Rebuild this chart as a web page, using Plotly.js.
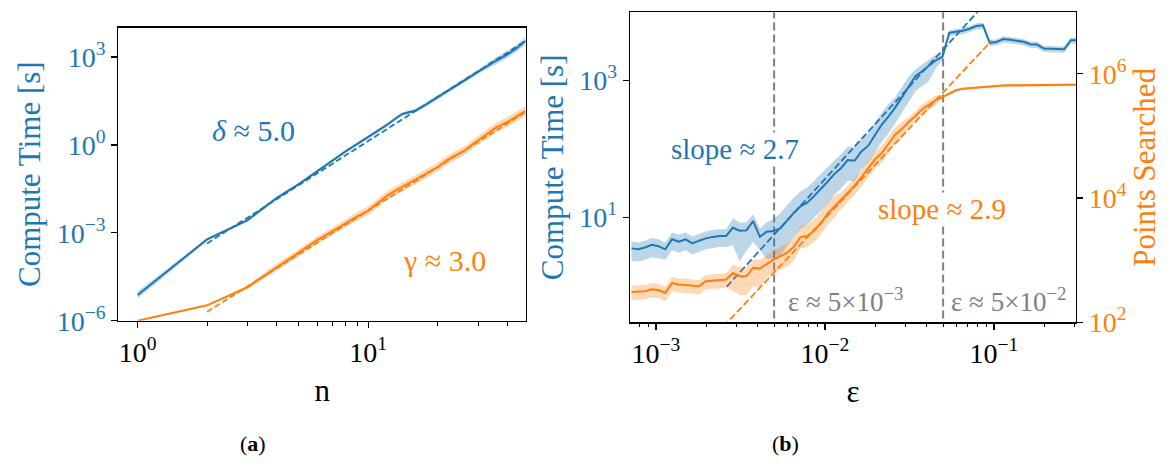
<!DOCTYPE html>
<html>
<head>
<meta charset="utf-8">
<script src="https://cdn.plot.ly/plotly-3.0.1.min.js"></script>
<style>
  html, body { margin: 0; padding: 0; background: #fff; }
  #chart { width: 1174px; height: 464px; }
</style>
</head>
<body>
<div id="chart"></div>
<script>
// ---------- panel (a): compute time versus n ----------
const nValues = [1, 2, 3, 4, 5, 6, 7, 8, 9, 10, 11, 12, 13, 14, 15, 16, 18, 20, 22, 24, 26, 28, 30, 33, 36, 40, 44, 48];
const timeDelta = [7.52e-6, 5.96e-4, 2.71e-3, 1.52e-2, 0.0458, 0.127, 0.295, 0.611, 1.10, 1.83, 2.94, 4.70, 7.53, 11.2, 13.1, 14.7, 25.1, 41.7, 67.6, 105, 155, 224, 316, 513, 759, 1202, 1995, 3548];
const timeGamma = [1.0e-6, 3.35e-6, 1.41e-5, 6.61e-5, 2.09e-4, 5.62e-4, 1.14e-3, 2.14e-3, 3.72e-3, 5.71e-3, 0.0103, 0.0179, 0.0264, 0.0362, 0.0476, 0.0627, 0.109, 0.174, 0.301, 0.447, 0.611, 0.979, 1.45, 2.51, 4.02, 5.96, 9.53, 14.1];
// spread of the shaded bands, in decades
const spreadDelta = [0.12, 0.05, 0.05, 0.05, 0.05, 0.05, 0.05, 0.05, 0.05, 0.05, 0.06, 0.06, 0.06, 0.06, 0.06, 0.06, 0.07, 0.07, 0.07, 0.07, 0.07, 0.07, 0.07, 0.10, 0.12, 0.12, 0.12, 0.12];
const spreadGamma = [0, 0.02, 0.06, 0.12, 0.12, 0.12, 0.12, 0.12, 0.15, 0.15, 0.15, 0.15, 0.15, 0.15, 0.15, 0.15, 0.15, 0.15, 0.15, 0.15, 0.15, 0.15, 0.15, 0.17, 0.17, 0.17, 0.17, 0.17];
// fitted power laws
const deltaExponent = 5.0;
const deltaFitN = [2, 48];
const deltaFitStart = 4.35e-4;
const gammaFitN = [2, 48];
const gammaFitVals = [2.03e-6, 13.0];

// ---------- panel (b): compute time and points searched versus epsilon ----------
const epsValues = [
  7.161e-4, 7.852e-4, 8.610e-4, 9.441e-4, 1.035e-3, 1.135e-3, 1.245e-3, 1.365e-3, 1.496e-3, 1.641e-3,
  1.799e-3, 1.972e-3, 2.163e-3, 2.371e-3, 2.600e-3, 2.851e-3, 3.126e-3, 3.428e-3, 3.758e-3, 4.121e-3,
  4.519e-3, 4.955e-3, 5.433e-3, 5.957e-3, 6.531e-3, 7.161e-3, 7.852e-3, 8.610e-3, 9.441e-3, 1.035e-2,
  1.135e-2, 1.245e-2, 1.365e-2, 1.496e-2, 1.641e-2, 1.799e-2, 1.972e-2, 2.163e-2, 2.371e-2, 2.600e-2,
  2.851e-2, 3.126e-2, 3.428e-2, 3.758e-2, 4.121e-2, 4.519e-2, 4.955e-2, 5.433e-2, 5.957e-2, 6.531e-2,
  7.161e-2, 7.852e-2, 8.610e-2, 9.441e-2, 0.1035, 0.1135, 0.1245, 0.1365, 0.1496, 0.1641,
  0.1799, 0.1972, 0.2163, 0.2371, 0.2600, 0.2851, 0.3126
];
const computeTime = [
  3.53, 3.43, 3.63, 3.98, 3.80, 3.42, 4.79, 4.42, 4.79, 4.17,
  4.57, 4.94, 5.19, 5.35, 5.35, 7.06, 6.38, 6.46, 8.83, 5.21,
  6.17, 6.31, 6.92, 9.12, 11.6, 14.5, 16.4, 20.4, 25.7, 33.1,
  42.7, 52.5, 68.4, 66.8, 91.2, 110, 158, 224, 295, 398,
  562, 794, 1148, 1349, 1622, 1950, 2188, 4898, 5070, 5248,
  5623, 6166, 6310, 3508, 3614, 3981, 3890, 3741, 3631, 3342,
  3311, 2891, 2891, 2851, 2818, 3828, 3828
];
const pointsSearched = [
  308, 308, 316, 339, 331, 296, 430, 407, 396, 389,
  380, 458, 466, 472, 488, 624, 551, 551, 752, 735,
  871, 1023, 1148, 1318, 1622, 2355, 2455, 2985, 3890, 5623,
  7244, 9333, 12160, 15850, 21630, 29510, 41690, 52480, 74130, 104700,
  128800, 167900, 208900, 269200, 316200, 375800, 421700, 478600, 543300, 572800,
  586100, 605300, 616600, 631000, 642700, 648600, 651600, 654600, 656200, 657700,
  659200, 660700, 660700, 662200, 662200, 663700, 663700
];
// band extents above / below each curve, in decades
const computeUp = [
  0.10, 0.10, 0.10, 0.10, 0.10, 0.10, 0.10, 0.10, 0.10, 0.10,
  0.10, 0.10, 0.10, 0.10, 0.10, 0.14, 0.12, 0.12, 0.10, 0.12,
  0.14, 0.18, 0.22, 0.22, 0.22, 0.22, 0.22, 0.22, 0.22, 0.22,
  0.20, 0.20, 0.20, 0.20, 0.18, 0.18, 0.18, 0.18, 0.18, 0.15,
  0.15, 0.15, 0.10, 0.10, 0.10, 0.08, 0.04, 0.04, 0.04, 0.04,
  0.04, 0.04, 0.04, 0.04, 0.04, 0.04, 0.04, 0.04, 0.04, 0.04,
  0.04, 0.04, 0.04, 0.04, 0.04, 0.04, 0.04
];
const computeDown = [
  0.18, 0.18, 0.18, 0.18, 0.18, 0.15, 0.16, 0.16, 0.16, 0.16,
  0.16, 0.16, 0.16, 0.16, 0.16, 0.25, 0.45, 0.30, 0.30, 0.20,
  0.40, 0.40, 0.40, 0.38, 0.35, 0.32, 0.32, 0.32, 0.32, 0.32,
  0.30, 0.30, 0.30, 0.30, 0.25, 0.25, 0.25, 0.25, 0.25, 0.22,
  0.22, 0.22, 0.22, 0.22, 0.22, 0.12, 0.05, 0.05, 0.05, 0.05,
  0.05, 0.05, 0.05, 0.05, 0.05, 0.05, 0.05, 0.05, 0.05, 0.05,
  0.05, 0.05, 0.05, 0.05, 0.05, 0.05, 0.05
];
const pointsUp = [
  0.10, 0.10, 0.10, 0.10, 0.10, 0.10, 0.10, 0.10, 0.10, 0.10,
  0.10, 0.10, 0.10, 0.10, 0.10, 0.14, 0.14, 0.14, 0.14, 0.14,
  0.15, 0.15, 0.15, 0.15, 0.15, 0.18, 0.18, 0.18, 0.18, 0.18,
  0.18, 0.12, 0.12, 0.12, 0.12, 0.12, 0.12, 0.12, 0.12, 0.12,
  0.12, 0.08, 0.08, 0.08, 0.08, 0.08, 0.02, 0.02, 0.02, 0.02,
  0.02, 0.02, 0.02, 0.02, 0.02, 0.02, 0.02, 0.02, 0.02, 0.02,
  0.02, 0.02, 0.02, 0.02, 0.02, 0.02, 0.02
];
const pointsDown = [
  0.13, 0.13, 0.13, 0.13, 0.13, 0.13, 0.13, 0.13, 0.13, 0.13,
  0.13, 0.13, 0.13, 0.13, 0.13, 0.30, 0.30, 0.30, 0.30, 0.30,
  0.22, 0.22, 0.22, 0.22, 0.22, 0.18, 0.18, 0.18, 0.18, 0.18,
  0.18, 0.15, 0.15, 0.15, 0.15, 0.15, 0.15, 0.15, 0.15, 0.15,
  0.15, 0.08, 0.08, 0.08, 0.08, 0.08, 0.02, 0.02, 0.02, 0.02,
  0.02, 0.02, 0.02, 0.02, 0.02, 0.02, 0.02, 0.02, 0.02, 0.02,
  0.02, 0.02, 0.02, 0.02, 0.02, 0.02, 0.02
];
// fitted slopes in the scaling regime
const computeSlope = 2.7;
const computeFitEps = [0.00262, 0.0807];
const computeFitStart = 0.975;
const pointsSlope = 2.9;
const pointsFitEps = [0.0025, 0.0968];
const pointsFitStart = 84.7;
// epsilon thresholds marked with vertical lines
const epsThresholds = [0.005, 0.05];

// ---------- styling ----------
const BLUE = '#1f77b4';
const ORANGE = '#ff7f0e';
const GREY = '#808080';
const SERIF = 'Liberation Serif';

function bandPolygon(xs, ys, up, down) {
  const upper = ys.map((v, i) => v * Math.pow(10, up[i]));
  const lower = ys.map((v, i) => v / Math.pow(10, down[i]));
  return {
    x: xs.concat(xs.slice().reverse()),
    y: upper.concat(lower.reverse())
  };
}

function powerLaw(xs, start, slope) {
  return xs.map(x => start * Math.pow(x / xs[0], slope));
}

function bandTrace(poly, color, xa, ya) {
  return {
    x: poly.x, y: poly.y, xaxis: xa, yaxis: ya,
    type: 'scatter', mode: 'lines', fill: 'toself',
    fillcolor: color, line: { width: 0 }, hoverinfo: 'skip', showlegend: false
  };
}

function lineTrace(xs, ys, color, xa, ya, dash) {
  return {
    x: xs, y: ys, xaxis: xa, yaxis: ya,
    type: 'scatter', mode: 'lines',
    line: { color: color, width: dash ? 1.8 : 2, dash: dash || 'solid' },
    hoverinfo: 'skip', showlegend: false
  };
}

const traces = [];

// panel (a)
traces.push(bandTrace(bandPolygon(nValues, timeDelta, spreadDelta, spreadDelta), 'rgba(31,119,180,0.3)', 'x', 'y'));
traces.push(bandTrace(bandPolygon(nValues, timeGamma, spreadGamma, spreadGamma), 'rgba(255,127,14,0.3)', 'x', 'y'));
traces.push(lineTrace(nValues, timeDelta, BLUE, 'x', 'y'));
traces.push(lineTrace(deltaFitN, powerLaw(deltaFitN, deltaFitStart, deltaExponent), BLUE, 'x', 'y', '6px,3px'));
traces.push(lineTrace(nValues, timeGamma, ORANGE, 'x', 'y'));
traces.push(lineTrace(gammaFitN, gammaFitVals, ORANGE, 'x', 'y', '6px,3px'));

// panel (b): threshold markers
epsThresholds.forEach(e => {
  traces.push({
    x: [e, e], y: [0.1, 1e5], xaxis: 'x2', yaxis: 'y2',
    type: 'scatter', mode: 'lines',
    line: { color: GREY, width: 2, dash: '8px,4px' },
    hoverinfo: 'skip', showlegend: false
  });
});
// compute time (left axis)
traces.push(bandTrace(bandPolygon(epsValues, computeTime, computeUp, computeDown), 'rgba(31,119,180,0.3)', 'x2', 'y2'));
traces.push(lineTrace(epsValues, computeTime, BLUE, 'x2', 'y2'));
traces.push(lineTrace(computeFitEps, powerLaw(computeFitEps, computeFitStart, computeSlope), BLUE, 'x2', 'y2', '7px,3px'));
// points searched (right axis)
traces.push(bandTrace(bandPolygon(epsValues, pointsSearched, pointsUp, pointsDown), 'rgba(255,127,14,0.3)', 'x2', 'y3'));
traces.push(lineTrace(epsValues, pointsSearched, ORANGE, 'x2', 'y3'));
traces.push(lineTrace(pointsFitEps, powerLaw(pointsFitEps, pointsFitStart, pointsSlope), ORANGE, 'x2', 'y3', '7px,3px'));

const tickFont = (c) => ({ family: SERIF, size: 28, color: c });
const titleFont = (c) => ({ family: SERIF, size: 31, color: c });

const baseAxis = {
  type: 'log', showgrid: false, zeroline: false,
  showline: true, linecolor: '#000', linewidth: 1.3,
  ticks: 'outside', ticklen: 6, tickwidth: 1.2, tickcolor: '#000',
  tickmode: 'array', automargin: false
};

function note(xPx, yPx, text, size, color, boxed) {
  const a = {
    xref: 'paper', yref: 'paper', x: xPx / 1174, y: 1 - yPx / 464,
    xanchor: 'center', yanchor: 'middle', text: text, showarrow: false,
    font: { family: SERIF, size: size, color: color }
  };
  if (boxed) { a.bgcolor = '#fff'; a.borderpad = 0; }
  return a;
}

const layout = {
  width: 1174, height: 464,
  margin: { l: 0, r: 0, t: 0, b: 0 },
  paper_bgcolor: '#fff', plot_bgcolor: 'rgba(0,0,0,0)',
  font: { family: SERIF },
  showlegend: false,
  xaxis: Object.assign({}, baseAxis, {
    domain: [0.1009, 0.4480], anchor: 'y', mirror: true,
    range: [-0.0833, 1.684],
    tickvals: [1, 10], ticktext: ['10<sup>0</sup>', '10<sup>1</sup>'],
    tickfont: tickFont('#000'),
    minor: { ticks: 'outside', ticklen: 3.5, tickwidth: 1, tickcolor: '#000', tickmode: 'array',
             tickvals: [2, 3, 4, 5, 6, 7, 8, 9, 20, 30, 40] },
    title: { text: 'n', font: titleFont('#000'), standoff: 12 }
  }),
  yaxis: Object.assign({}, baseAxis, {
    domain: [0.3088, 0.9403], anchor: 'x', mirror: true,
    range: [-6, 4],
    tickvals: [1e-6, 1e-3, 1, 1e3],
    ticktext: ['10<sup>−6</sup>', '10<sup>−3</sup>', '10<sup>0</sup>', '10<sup>3</sup>'],
    tickfont: tickFont(BLUE),
    title: { text: 'Compute Time [s]', font: titleFont(BLUE), standoff: 6 }
  }),
  xaxis2: Object.assign({}, baseAxis, {
    domain: [0.5366, 0.9165], anchor: 'y2', mirror: true,
    range: [-3.154, -0.515],
    tickvals: [1e-3, 1e-2, 1e-1],
    ticktext: ['10<sup>−3</sup>', '10<sup>−2</sup>', '10<sup>−1</sup>'],
    tickfont: tickFont('#000'),
    minor: { ticks: 'outside', ticklen: 3.5, tickwidth: 1, tickcolor: '#000', tickmode: 'array',
             tickvals: [8e-4, 9e-4, 2e-3, 3e-3, 4e-3, 5e-3, 6e-3, 7e-3, 8e-3, 9e-3,
                        2e-2, 3e-2, 4e-2, 5e-2, 6e-2, 7e-2, 8e-2, 9e-2, 0.2, 0.3] },
    title: { text: 'ε', font: titleFont('#000'), standoff: 12 }
  }),
  yaxis2: Object.assign({}, baseAxis, {
    domain: [0.3054, 0.9735], anchor: 'x2', mirror: false,
    range: [-0.53, 3.99],
    tickvals: [10, 1000], ticktext: ['10<sup>1</sup>', '10<sup>3</sup>'],
    tickfont: tickFont(BLUE),
    title: { text: 'Compute Time [s]', font: titleFont(BLUE), standoff: 6 }
  }),
  yaxis3: Object.assign({}, baseAxis, {
    domain: [0.3054, 0.9735], anchor: 'x2', overlaying: 'y2', side: 'right',
    range: [2, 6.99],
    tickvals: [1e2, 1e4, 1e6], ticktext: ['10<sup>2</sup>', '10<sup>4</sup>', '10<sup>6</sup>'],
    tickfont: tickFont(ORANGE),
    title: { text: 'Points Searched', font: titleFont(ORANGE), standoff: 6 }
  }),
  annotations: [
    note(253, 130, '<i>δ</i> ≈ 5.0', 30, BLUE, false),
    note(444, 260, 'γ ≈ 3.0', 30, ORANGE, false),
    note(735, 149, 'slope ≈ 2.7', 29, BLUE, true),
    note(942, 209, 'slope ≈ 2.9', 29, ORANGE, true),
    note(846, 300, 'ε ≈ 5×10<sup>−3</sup>', 27, GREY, false),
    note(1009, 300, 'ε ≈ 5×10<sup>−2</sup>', 27, GREY, false),
    note(253, 443, '(<b>a</b>)', 22, '#000', false),
    note(785, 443, '(<b>b</b>)', 22, '#000', false)
  ]
};

Plotly.newPlot('chart', traces, layout, { staticPlot: true, displayModeBar: false });
</script>
</body>
</html>
